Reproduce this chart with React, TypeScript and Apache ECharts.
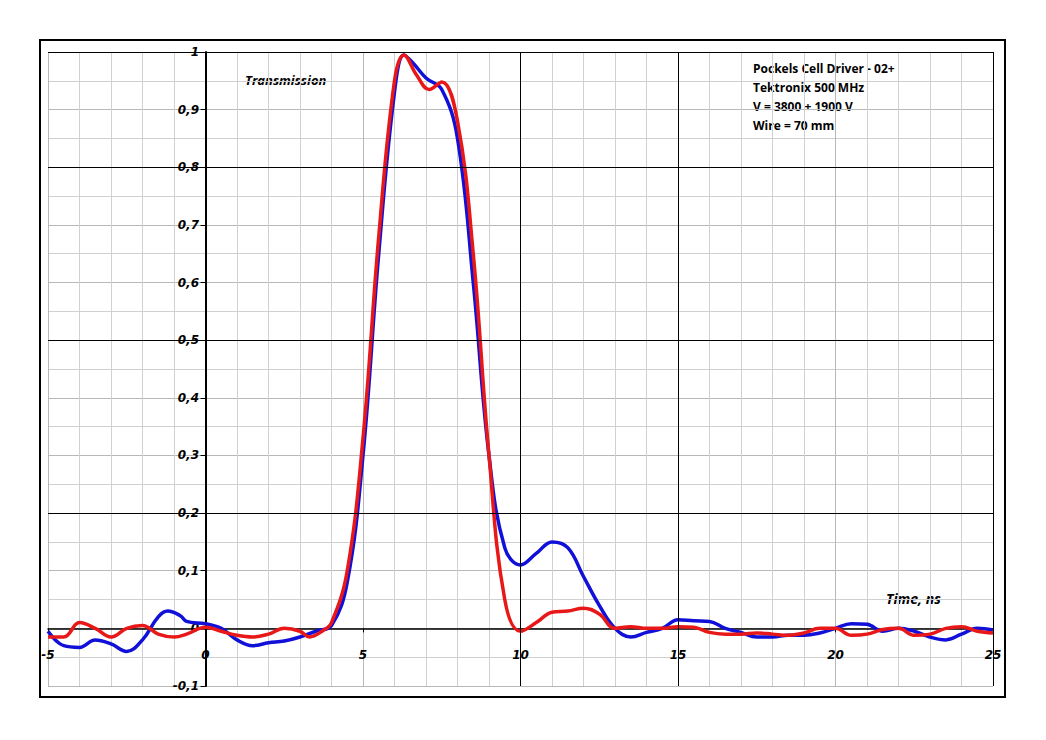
import { useEffect, useRef } from 'react'
import * as echarts from 'echarts'

const blueX = [-5, -4.5, -4, -3.5, -3, -2.5, -2, -1.5, -1.2, -0.8, -0.6, 0, 0.5, 1, 1.5, 2, 2.5, 3, 3.5, 4, 4.5, 5, 5.5, 6, 6.3, 6.6, 7, 7.5, 8, 8.5, 9, 9.5, 10, 10.5, 11, 11.5, 12, 12.5, 13, 13.5, 14, 14.5, 15, 15.5, 16, 16.5, 17, 17.5, 18, 18.5, 19, 19.5, 20, 20.5, 21, 21.5, 22, 22.5, 23, 23.5, 24, 24.5, 25]
const blueY = [-0.005, -0.03, -0.033, -0.02, -0.027, -0.04, -0.02, 0.02, 0.03, 0.022, 0.012, 0.008, 0, -0.02, -0.03, -0.025, -0.022, -0.015, -0.005, 0.005, 0.08, 0.3, 0.65, 0.93, 0.995, 0.98, 0.955, 0.935, 0.85, 0.6, 0.3, 0.14, 0.11, 0.13, 0.15, 0.14, 0.09, 0.04, 0, -0.015, -0.007, 0, 0.015, 0.013, 0.012, 0, -0.007, -0.015, -0.015, -0.012, -0.012, -0.008, 0, 0.008, 0.007, -0.005, 0, -0.005, -0.015, -0.02, -0.01, 0, -0.003]

const redX = [-5, -4.5, -4, -3.5, -3, -2.5, -2, -1.5, -1, -0.6, 0, 0.5, 1, 1.5, 2, 2.5, 3, 3.3, 3.7, 4, 4.5, 5, 5.5, 6, 6.3, 6.7, 7.1, 7.5, 8, 8.5, 9, 9.5, 10, 10.5, 11, 11.5, 12, 12.5, 13, 13.5, 14, 14.5, 15, 15.5, 16, 16.5, 17, 17.5, 18, 18.5, 19, 19.5, 20, 20.5, 21, 21.5, 22, 22.5, 23, 23.5, 24, 24.5, 25]
const redY = [-0.015, -0.015, 0.01, 0, -0.015, 0, 0.005, -0.01, -0.015, -0.01, 0.002, -0.005, -0.012, -0.015, -0.01, 0, -0.005, -0.015, -0.005, 0.01, 0.1, 0.33, 0.68, 0.95, 0.995, 0.96, 0.935, 0.948, 0.88, 0.65, 0.3, 0.05, -0.005, 0.01, 0.028, 0.03, 0.035, 0.025, 0, 0.003, 0, 0, 0.003, 0.002, -0.007, -0.01, -0.01, -0.008, -0.01, -0.012, -0.008, 0, 0, -0.012, -0.01, -0.002, 0, -0.012, -0.01, 0, 0.003, -0.005, -0.008]

const majorY = [0.2, 0.5, 0.8, 1]
const majorX = [10, 15, 25]
const infoLines = ['Pockels Cell Driver - 02+', 'Tektronix 500 MHz', 'V = 3800 + 1900 V', 'Wire = 70 mm']

const labelFont = { fontFamily: 'DejaVu Sans', fontSize: 12, fontWeight: 'bold' as const, fontStyle: 'italic' as const, color: '#000' }

export default function App() {
  const ref = useRef<HTMLDivElement>(null)

  useEffect(() => {
    if (!ref.current) return
    const chart = echarts.init(ref.current, undefined, { renderer: 'svg' })
    const zip = (xs: number[], ys: number[]) => xs.map((x, i) => [x, ys[i]])
    chart.setOption({
      animation: false,
      backgroundColor: '#fff',
      grid: { left: 48, right: 53, top: 52, bottom: 54 },
      xAxis: {
        type: 'value', min: -5, max: 25, interval: 5,
        axisLine: { onZero: true, lineStyle: { color: '#000', width: 1.5 } },
        axisTick: { show: true, length: 4, lineStyle: { color: '#000' } },
        // labels sit just under the zero line, not at the bottom of the grid
        axisLabel: { ...labelFont, formatter: (v: number) => String(v), margin: -37 },
        splitLine: { show: true, lineStyle: { color: '#b8b8b8', width: 1 } },
        minorTick: { show: false, splitNumber: 5 },
        minorSplitLine: { show: true, lineStyle: { color: '#d0d0d0', width: 1 } },
      },
      yAxis: {
        type: 'value', min: -0.1, max: 1, interval: 0.1,
        axisLine: { onZero: true, lineStyle: { color: '#000', width: 2 } },
        axisTick: { show: true, length: 5, lineStyle: { color: '#000' } },
        // labels sit left of the x = 0 line
        axisLabel: { ...labelFont, formatter: (v: number) => String(Math.round(v * 10) / 10).replace('.', ','), margin: -151 },
        splitLine: { show: true, lineStyle: { color: '#b8b8b8', width: 1 } },
        minorTick: { show: false, splitNumber: 2 },
        minorSplitLine: { show: true, lineStyle: { color: '#d0d0d0', width: 1 } },
      },
      graphic: [
        { type: 'rect', shape: { x: 40, y: 40, width: 965, height: 657 }, style: { fill: 'none', stroke: '#000', lineWidth: 2 }, silent: true },
        { type: 'text', x: 245, y: 73, style: { text: 'Transmission', font: 'italic bold 13px "Open Sans"', fill: '#000' } },
        { type: 'text', x: 886, y: 591, style: { text: 'Time, ns', font: 'italic bold 14px "Open Sans"', fill: '#000' } },
        ...infoLines.map((t, i) => ({ type: 'text', x: 753, y: 62 + i * 19, style: { text: t, font: 'bold 12px "Open Sans"', fill: '#000' } })),
      ],
      series: [
        {
          type: 'line', data: zip(blueX, blueY), smooth: 0.4, showSymbol: false,
          lineStyle: { color: '#1010d8', width: 3.5 }, z: 3,
          markLine: {
            silent: true, symbol: 'none', label: { show: false },
            lineStyle: { color: '#000', width: 1, type: 'solid' },
            data: [...majorY.map((y) => ({ yAxis: y })), ...majorX.map((x) => ({ xAxis: x }))],
          },
        },
        {
          type: 'line', data: zip(redX, redY), smooth: 0.4, showSymbol: false,
          lineStyle: { color: '#e81818', width: 3.5 }, z: 4,
        },
      ],
    })
    return () => chart.dispose()
  }, [])

  return <div ref={ref} style={{ position: 'fixed', left: 0, top: 0, width: 1046, height: 740 }} />
}
